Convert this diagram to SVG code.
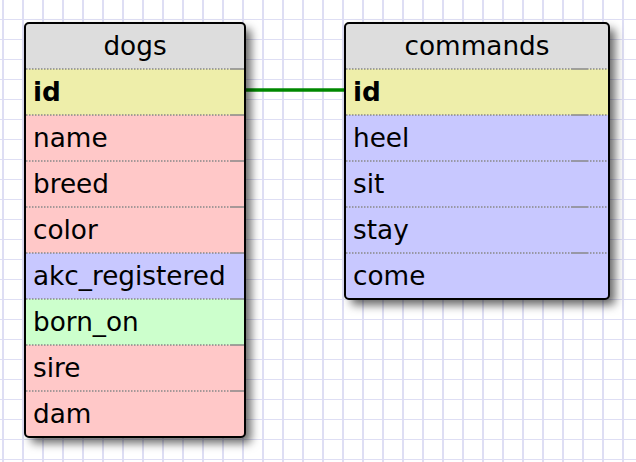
<svg xmlns="http://www.w3.org/2000/svg" width="636" height="462" viewBox="0 0 636 462">
<defs>
<pattern id="grid" x="0" y="0" width="20" height="20" patternUnits="userSpaceOnUse">
<rect width="20" height="20" fill="#ffffff"/>
<rect x="2" y="0" width="2" height="20" fill="#dedef4"/>
<rect x="0" y="19" width="20" height="2" fill="#dedef4"/>
</pattern>
<filter id="shadow" x="-10%" y="-10%" width="130%" height="130%">
<feDropShadow dx="6" dy="6" stdDeviation="5" flood-color="#000" flood-opacity="0.6"/>
</filter>
</defs>
<style>
.t{font-family:"DejaVu Sans","Verdana",sans-serif;font-size:26.3px;fill:#000}
.h{text-anchor:middle}
.b{font-weight:bold}
.sep{stroke:#888;stroke-width:1.5;stroke-dasharray:1.5 1.5}
.sepe{stroke:#888;stroke-width:1.5}
.frame{fill:none;stroke:#000;stroke-width:2}
.hd{fill:#dddddd}.pk{fill:#eeeeaa}.rd{fill:#ffc8c8}.bl{fill:#c8c8ff}.gr{fill:#ccffcc}
</style>
<rect width="636" height="462" fill="url(#grid)"/>
<g id="connectors">
<line x1="245" y1="90" x2="345" y2="90" stroke="#008800" stroke-width="3.5"/>
</g>
<g id="dogs">
<rect x="25" y="23" width="220" height="414" rx="4" fill="#ddd" filter="url(#shadow)"/>
<g clip-path="url(#cd)">
<clipPath id="cd"><rect x="25" y="23" width="220" height="414" rx="4"/></clipPath>
<rect class="hd" x="25" y="23" width="220" height="46"/>
<rect class="pk" x="25" y="69" width="220" height="46"/>
<rect class="rd" x="25" y="115" width="220" height="138"/>
<rect class="bl" x="25" y="253" width="220" height="46"/>
<rect class="gr" x="25" y="299" width="220" height="46"/>
<rect class="rd" x="25" y="345" width="220" height="92"/>
</g>
<g>
<line class="sep" x1="26" y1="69" x2="230" y2="69"/><line class="sepe" x1="230" y1="69" x2="244" y2="69"/>
<line class="sep" x1="26" y1="115" x2="230" y2="115"/><line class="sepe" x1="230" y1="115" x2="244" y2="115"/>
<line class="sep" x1="26" y1="161" x2="230" y2="161"/><line class="sepe" x1="230" y1="161" x2="244" y2="161"/>
<line class="sep" x1="26" y1="207" x2="230" y2="207"/><line class="sepe" x1="230" y1="207" x2="244" y2="207"/>
<line class="sep" x1="26" y1="253" x2="230" y2="253"/><line class="sepe" x1="230" y1="253" x2="244" y2="253"/>
<line class="sep" x1="26" y1="299" x2="230" y2="299"/><line class="sepe" x1="230" y1="299" x2="244" y2="299"/>
<line class="sep" x1="26" y1="345" x2="230" y2="345"/><line class="sepe" x1="230" y1="345" x2="244" y2="345"/>
<line class="sep" x1="26" y1="391" x2="230" y2="391"/><line class="sepe" x1="230" y1="391" x2="244" y2="391"/>
</g>
<rect class="frame" x="25" y="23" width="220" height="414" rx="4"/>
<text class="t h" x="135" y="55">dogs</text>
<text class="t b" x="33" y="101">id</text>
<text class="t" x="33" y="147">name</text>
<text class="t" x="33" y="193">breed</text>
<text class="t" x="33" y="239">color</text>
<text class="t" x="33" y="285">akc_registered</text>
<text class="t" x="33" y="331">born_on</text>
<text class="t" x="33" y="377">sire</text>
<text class="t" x="33" y="423">dam</text>
</g>
<g id="commands">
<rect x="345" y="23" width="264" height="276" rx="4" fill="#ddd" filter="url(#shadow)"/>
<g clip-path="url(#cc)">
<clipPath id="cc"><rect x="345" y="23" width="264" height="276" rx="4"/></clipPath>
<rect class="hd" x="345" y="23" width="264" height="46"/>
<rect class="pk" x="345" y="69" width="264" height="46"/>
<rect class="bl" x="345" y="115" width="264" height="184"/>
</g>
<g>
<line class="sep" x1="346" y1="69" x2="571" y2="69"/><line class="sepe" x1="571" y1="69" x2="587" y2="69"/><line class="sep" x1="587" y1="69" x2="608" y2="69"/>
<line class="sep" x1="346" y1="115" x2="571" y2="115"/><line class="sepe" x1="571" y1="115" x2="587" y2="115"/><line class="sep" x1="587" y1="115" x2="608" y2="115"/>
<line class="sep" x1="346" y1="161" x2="571" y2="161"/><line class="sepe" x1="571" y1="161" x2="587" y2="161"/><line class="sep" x1="587" y1="161" x2="608" y2="161"/>
<line class="sep" x1="346" y1="207" x2="571" y2="207"/><line class="sepe" x1="571" y1="207" x2="587" y2="207"/><line class="sep" x1="587" y1="207" x2="608" y2="207"/>
<line class="sep" x1="346" y1="253" x2="571" y2="253"/><line class="sepe" x1="571" y1="253" x2="587" y2="253"/><line class="sep" x1="587" y1="253" x2="608" y2="253"/>
</g>
<rect class="frame" x="345" y="23" width="264" height="276" rx="4"/>
<text class="t h" x="477" y="55">commands</text>
<text class="t b" x="353" y="101">id</text>
<text class="t" x="353" y="147">heel</text>
<text class="t" x="353" y="193">sit</text>
<text class="t" x="353" y="239">stay</text>
<text class="t" x="353" y="285">come</text>
</g>
</svg>
